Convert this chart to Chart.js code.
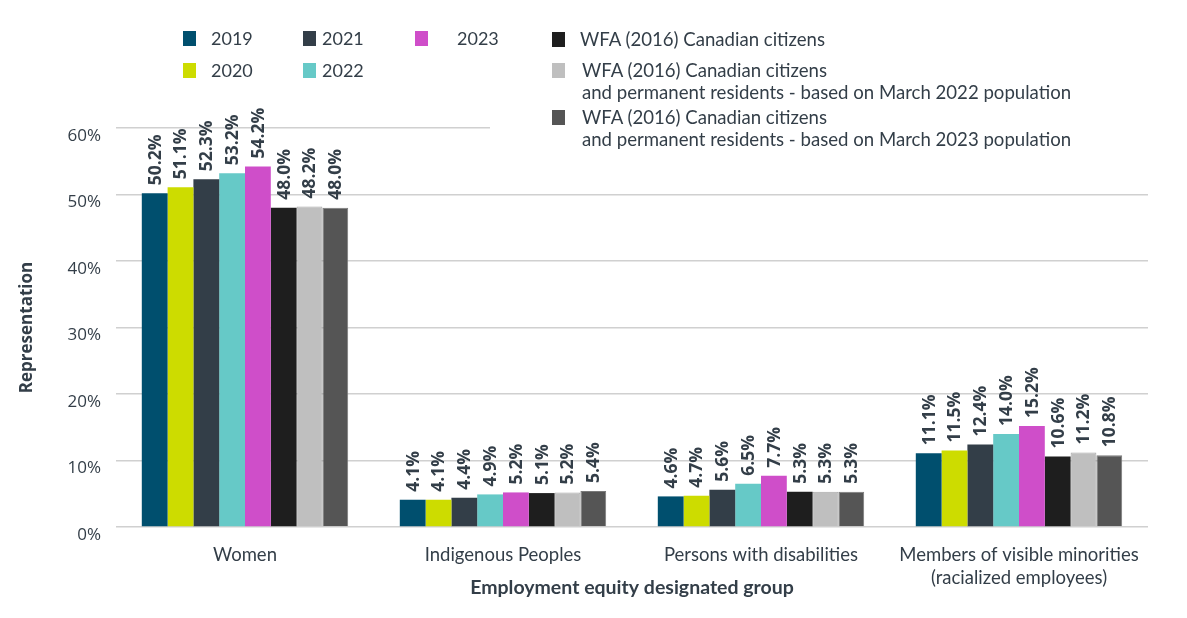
<!DOCTYPE html>
<html>
<head>
<meta charset="utf-8">
<script src="https://cdn.jsdelivr.net/npm/chart.js@4/dist/chart.umd.min.js"></script>
<style>
  html, body { margin: 0; padding: 0; background: #fff; }
  #wrap { position: relative; width: 1187px; height: 618px; }
  #c { position: absolute; left: 0; top: 0; }
  .leg { position: absolute; font-family: Lato, sans-serif; color: #333e48; line-height: 22px; white-space: nowrap; }
  .sw { position: absolute; width: 13px; height: 15px; }
  #mask { position: absolute; left: 490px; top: 18px; width: 665px; height: 140px; background: #fff; }
</style>
</head>
<body>
<div id="wrap">
  <canvas id="c" width="1187" height="618"></canvas>
  <div id="mask"></div>
  <div id="legend"></div>
</div>
<script>
// ---- data ----
const categories = ['Women', 'Indigenous Peoples', 'Persons with disabilities', ['Members of visible minorities', '(racialized employees)']];
const seriesNames = ['2019', '2020', '2021', '2022', '2023',
  'WFA (2016) Canadian citizens',
  'WFA (2016) Canadian citizens and permanent residents - based on March 2022 population',
  'WFA (2016) Canadian citizens and permanent residents - based on March 2023 population'];
const v2019 = [50.2, 4.1, 4.6, 11.1];
const v2020 = [51.1, 4.1, 4.7, 11.5];
const v2021 = [52.3, 4.4, 5.6, 12.4];
const v2022 = [53.2, 4.9, 6.5, 14.0];
const v2023 = [54.2, 5.2, 7.7, 15.2];
const wfaCitizens = [48.0, 5.1, 5.3, 10.6];
const wfaMarch2022 = [48.2, 5.2, 5.3, 11.2];
const wfaMarch2023 = [48.0, 5.4, 5.3, 10.8];
const yTicks = [0, 10, 20, 30, 40, 50, 60];

// ---- styles ----
const colors = ['#004f6e', '#cddc00', '#333e48', '#66c9c7', '#cf4ec9', '#1e1e1e', '#bfbfbf', '#555555'];
const borders = ['#004f6e', '#cddc00', '#333e48', '#66c9c7', '#cf4ec9', '#1e1e1e', '#a8a8a8', '#7a7a7a'];
const allValues = [v2019, v2020, v2021, v2022, v2023, wfaCitizens, wfaMarch2022, wfaMarch2023];
const textColor = '#333e48';

const datasets = allValues.map((vals, i) => ({
  label: seriesNames[i],
  data: vals,
  backgroundColor: colors[i],
  borderColor: borders[i],
  borderWidth: i >= 6 ? 1 : 0,
  categoryPercentage: 0.8,
  barPercentage: 1.0
}));

const valueLabels = {
  id: 'valueLabels',
  afterDatasetsDraw(chart) {
    const ctx = chart.ctx;
    ctx.save();
    ctx.font = 'bold 17.5px "Open Sans"';
    ctx.fillStyle = textColor;
    ctx.textAlign = 'left';
    ctx.textBaseline = 'middle';
    chart.data.datasets.forEach((ds, di) => {
      const meta = chart.getDatasetMeta(di);
      meta.data.forEach((bar, j) => {
        ctx.save();
        ctx.translate(bar.x + 1, bar.y - 8);
        ctx.rotate(-Math.PI / 2);
        ctx.fillText(ds.data[j].toFixed(1) + '%', 0, 0);
        ctx.restore();
      });
    });
    ctx.restore();
  }
};

new Chart(document.getElementById('c'), {
  type: 'bar',
  data: { labels: categories, datasets },
  options: {
    responsive: false,
    animation: false,
    devicePixelRatio: 1,
    layout: { padding: { top: 128, right: 39, left: 0, bottom: 0 } },
    plugins: { legend: { display: false }, tooltip: { enabled: false } },
    scales: {
      x: {
        grid: { display: false, drawTicks: false },
        border: { display: false },
        ticks: { color: textColor, font: { family: 'Lato', size: 18.5, lineHeight: 1.25 }, padding: 16, maxRotation: 0, autoSkip: false },
        title: { display: true, text: 'Employment equity designated group', color: textColor,
                 font: { family: 'Lato', size: 19.5, weight: 'bold' }, padding: { top: 0, bottom: 19 } },
        afterFit(s) { s.height = 91; }
      },
      y: {
        min: 0, max: 60,
        afterBuildTicks(s) { s.ticks = yTicks.map(v => ({ value: v })); },
        grid: { color: '#d0d0d0', lineWidth: 1.5, drawTicks: false },
        border: { display: false },
        ticks: { color: textColor, font: { family: 'Open Sans', size: 17 }, padding: 15, labelOffset: 8, callback: v => v + '%' },
        title: { display: true, text: 'Representation', color: textColor,
                 font: { family: 'Open Sans', size: 17, weight: 'bold' }, padding: { top: 17, bottom: 0 } },
        afterFit(s) { s.width = 116; }
      }
    }
  },
  plugins: [valueLabels]
});

// ---- HTML legend ----
const legendItems = [
  { i: 0, x: 183, y: 31, tx: 211, size: 18, lines: ['2019'] },
  { i: 1, x: 183, y: 63, tx: 211, size: 18, lines: ['2020'] },
  { i: 2, x: 303, y: 31, tx: 322, size: 18, lines: ['2021'] },
  { i: 3, x: 303, y: 63, tx: 322, size: 18, lines: ['2022'] },
  { i: 4, x: 415, y: 31, tx: 457, size: 18, lines: ['2023'] },
  { i: 5, x: 552, y: 32, tx: 580, size: 18.6, lines: ['WFA (2016) Canadian citizens'] },
  { i: 6, x: 552, y: 63, tx: 582, size: 18.6, lines: ['WFA (2016) Canadian citizens', 'and permanent residents - based on March 2022 population'] },
  { i: 7, x: 552, y: 110, tx: 582, size: 18.6, lines: ['WFA (2016) Canadian citizens', 'and permanent residents - based on March 2023 population'] }
];
const legend = document.getElementById('legend');
legendItems.forEach(it => {
  const sw = document.createElement('div');
  sw.className = 'sw';
  sw.style.left = it.x + 'px';
  sw.style.top = it.y + 'px';
  sw.style.background = colors[it.i];
  legend.appendChild(sw);
  const t = document.createElement('div');
  t.className = 'leg';
  t.style.left = it.tx + 'px';
  t.style.top = (it.y - 4) + 'px';
  t.style.fontSize = it.size + 'px';
  t.innerHTML = it.lines.join('<br>');
  legend.appendChild(t);
});
</script>
</body>
</html>
